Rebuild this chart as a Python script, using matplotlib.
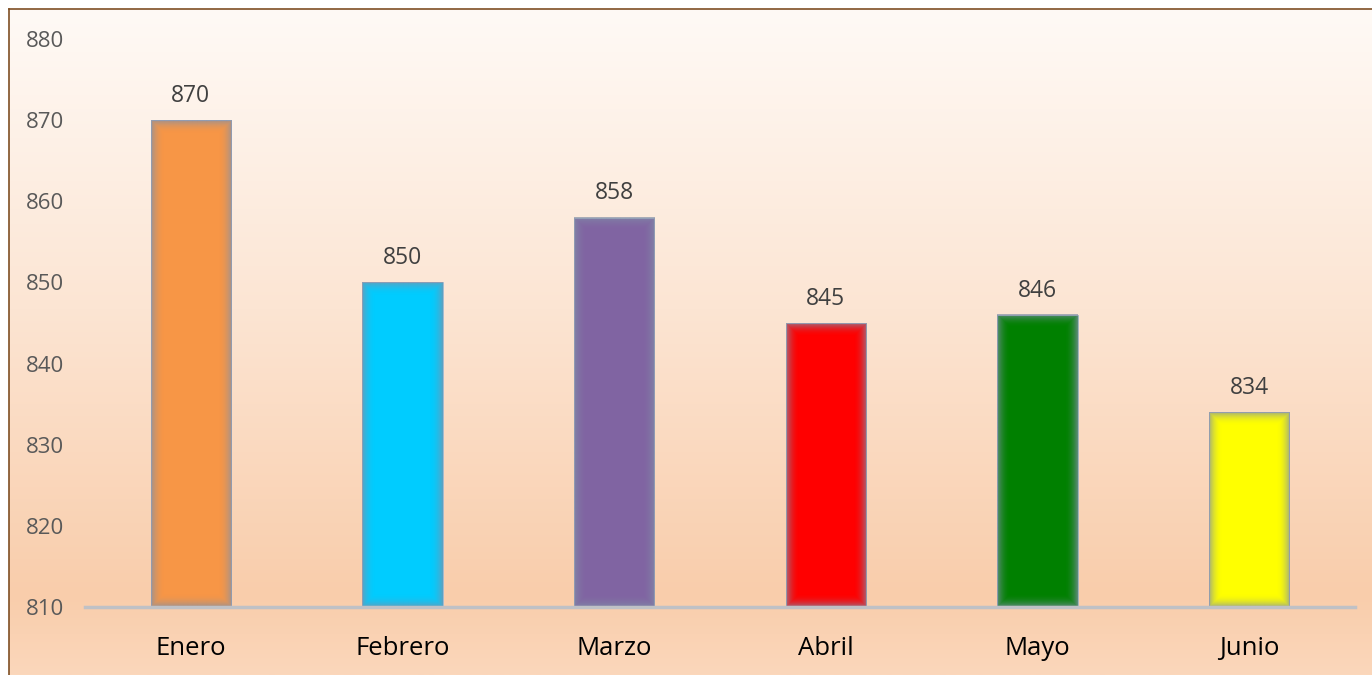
import numpy as np
import matplotlib
matplotlib.use('Agg')
import matplotlib.pyplot as plt
from matplotlib.colors import to_rgb
from matplotlib.lines import Line2D

# datos
meses = ["Enero", "Febrero", "Marzo", "Abril", "Mayo", "Junio"]
valores = [870, 850, 858, 845, 846, 834]
colores = ["#F79646", "#00CCFF", "#8064A2", "#FF0000", "#008000", "#FFFF00"]
y_ticks = [810, 820, 830, 840, 850, 860, 870, 880]

plt.rcParams['font.family'] = ['Open Sans', 'DejaVu Sans']

W, H = 1372, 675
fig = plt.figure(figsize=(W / 100, H / 100), dpi=100)
fig.patch.set_facecolor('white')

# fondo con degradado vertical (dentro del borde)
bg = fig.add_axes([9 / W, 0, 1 - 9 / W, 1 - 9 / H], zorder=-10)
bg.axis('off')
pos = [0.0, 0.45, 0.88, 1.0]
cols = [to_rgb(c) for c in ["#FFFAF6", "#FCE5D3", "#F9CDAB", "#FBD7BB"]]
t = np.linspace(0, 1, 400)
grad = np.stack([np.interp(t, pos, [c[k] for c in cols]) for k in range(3)], axis=1)
bg.imshow(grad[:, None, :], aspect='auto', extent=(0, 1, 0, 1))

# borde marron
fig.add_artist(Line2D([8.5 / W, 8.5 / W], [0, 1 - 8.5 / H], color='#7F4F24', lw=1.2))
fig.add_artist(Line2D([8.5 / W, 1], [1 - 8.5 / H, 1 - 8.5 / H], color='#7F4F24', lw=1.2))

ax = fig.add_axes([85 / W, 68 / H, 1270 / W, 568 / H])
ax.patch.set_alpha(0)

x = np.arange(len(meses))
ancho = 0.38
bars = ax.bar(x, np.array(valores) - 810, bottom=810, width=ancho, color=colores,
              edgecolor='#A9B7CE', linewidth=0.6, zorder=2)

# sombra interior suave en cada barra
px_x = 1270 / 6
px_y = 568 / 70
glow = to_rgb('#8290A8')
for i, v in enumerate(valores):
    w = int(round(ancho * px_x))
    h = int(round((v - 810) * px_y))
    xs = np.arange(w) + 0.5
    ys = np.arange(h) + 0.5
    dx = np.minimum(xs, w - xs)[None, :]
    dy = np.minimum(ys, h - ys)[:, None]
    d = np.minimum(dx, dy)
    a = 0.75 * np.clip(1 - d / 14, 0, 1) ** 2.2
    img = np.zeros((h, w, 4))
    img[..., :3] = glow
    img[..., 3] = a
    ax.imshow(img, extent=(i - ancho / 2, i + ancho / 2, 810, v), aspect='auto',
              interpolation='bilinear', zorder=3)
    ax.annotate(str(v), (i, v), xytext=(0, 13), textcoords='offset points',
                ha='center', va='baseline', fontsize=16.5, color='#404040')

ax.set_xlim(-0.5, 5.5)
ax.set_ylim(810, 880)
ax.set_yticks(y_ticks)
ax.set_xticks(x)
ax.set_xticklabels(meses)
ax.tick_params(axis='y', length=0, pad=15, labelsize=16, labelcolor='#595959')
ax.tick_params(axis='x', length=0, pad=21, labelsize=18.5, labelcolor='black')
for s in ['top', 'right', 'left']:
    ax.spines[s].set_visible(False)
ax.spines['bottom'].set_color('#BFC1C6')
ax.spines['bottom'].set_linewidth(2.5)
ax.spines['bottom'].set_zorder(4)

fig.savefig("out.png", dpi=100)
